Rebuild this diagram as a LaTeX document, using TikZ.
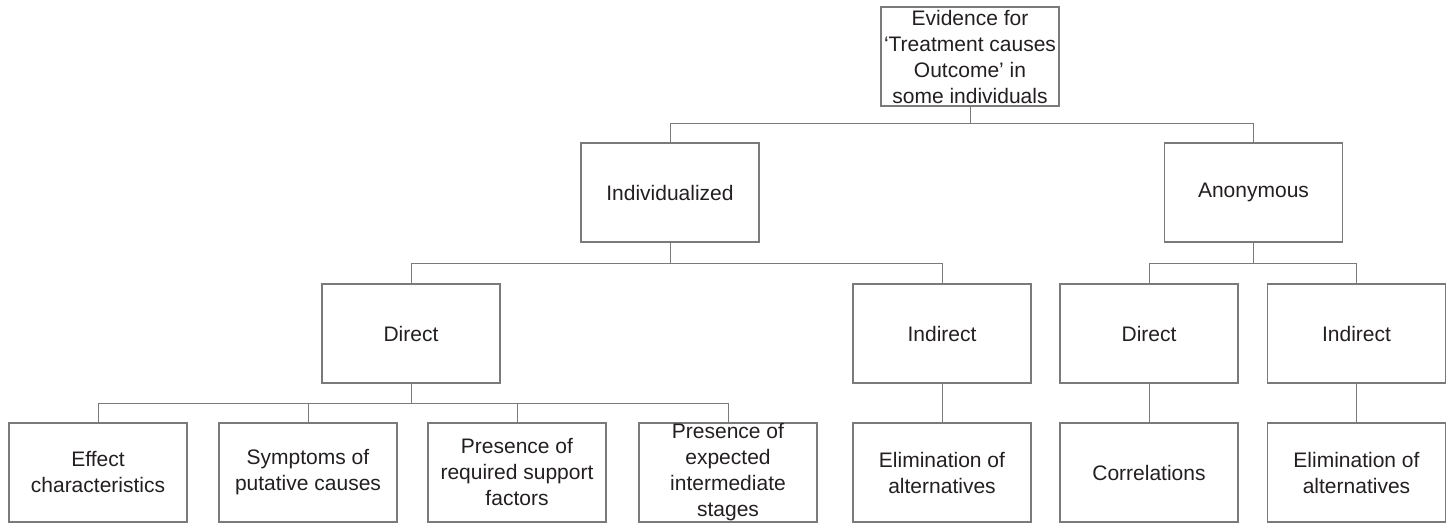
\documentclass[tikz,border=0pt]{standalone}
\usepackage{fontspec}
\setmainfont{Liberation Sans}
\definecolor{linegray}{HTML}{7A7A7A}
\definecolor{textdark}{HTML}{231F20}
\begin{document}
\begin{tikzpicture}[x=0.5pt,y=-0.5pt,
    box/.style={draw=linegray, line width=0.65pt, minimum width=89pt, minimum height=49.5pt,
        inner sep=0pt, align=center, text=textdark, font=\fontsize{10.5pt}{13pt}\selectfont},
    link/.style={draw=linegray, line width=0.5pt}]
        \useasboundingbox (0,0) rectangle (1448,524);

        % top levels
        \node[box] (root) at (970,56.5) {Evidence for\\‘Treatment causes\\Outcome’ in\\some individuals};
        \node[box] (indiv) at (670,192.5) {Individualized};
        \node[box] (anon) at (1253.5,192.5) {Anonymous};

        \node[box] (idir) at (411,333.5) {Direct};
        \node[box] (iind) at (942,333.5) {Indirect};
        \node[box] (adir) at (1149,333.5) {Direct};
        \node[box] (aind) at (1356.5,333.5) {Indirect};

        % leaves
        \node[box] (eff) at (98,472.5) {Effect\\characteristics};
        \node[box] (sym) at (308,472.5) {Symptoms of\\putative causes};
        \node[box] (req) at (517,472.5) {Presence of\\required support\\factors};
        \node[box] (exp) at (728,472.5) {Presence of\\expected\\intermediate\\stages};
        \node[box] (ielim) at (942,472.5) {Elimination of\\alternatives};
        \node[box] (corr) at (1149,472.5) {Correlations};
        \node[box] (aelim) at (1356.5,472.5) {Elimination of\\alternatives};

        \foreach \n in {indiv,anon} {
            \draw[link] (root.south) -- ++(0,17) -| (\n.north);
        }
        \foreach \n in {idir,iind} {
            \draw[link] (indiv.south) -- ++(0,21) -| (\n.north);
        }
        \foreach \n in {adir,aind} {
            \draw[link] (anon.south) -- ++(0,21) -| (\n.north);
        }
        \foreach \n in {eff,sym,req,exp} {
            \draw[link] (idir.south) -- ++(0,20) -| (\n.north);
        }
        \draw[link] (iind.south) -- (ielim.north);
        \draw[link] (adir.south) -- (corr.north);
        \draw[link] (aind.south) -- (aelim.north);

\end{tikzpicture}
\end{document}
